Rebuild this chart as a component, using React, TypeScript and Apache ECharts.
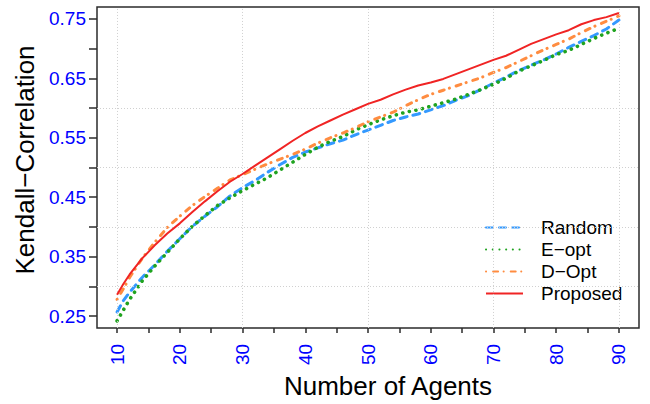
import React, { useEffect, useRef } from "react";
import * as echarts from "echarts";

const agents = [10, 11, 12, 14, 16, 18, 20, 22, 24, 26, 28, 30, 32, 34, 36, 38, 40, 42, 44, 46, 48, 50, 52, 54, 56, 58, 60, 62, 64, 66, 68, 70, 72, 74, 76, 78, 80, 82, 84, 86, 88, 90];

const randomVals = [0.257, 0.276, 0.290, 0.315, 0.336, 0.359, 0.380, 0.401, 0.418, 0.434, 0.452, 0.466, 0.478, 0.492, 0.505, 0.517, 0.526, 0.533, 0.540, 0.546, 0.555, 0.563, 0.571, 0.579, 0.585, 0.590, 0.597, 0.604, 0.613, 0.621, 0.631, 0.642, 0.652, 0.663, 0.672, 0.681, 0.691, 0.702, 0.712, 0.722, 0.733, 0.748];

const eOptVals = [0.242, 0.260, 0.278, 0.309, 0.334, 0.357, 0.380, 0.401, 0.419, 0.436, 0.449, 0.461, 0.472, 0.483, 0.496, 0.509, 0.522, 0.534, 0.544, 0.552, 0.563, 0.572, 0.580, 0.587, 0.593, 0.597, 0.603, 0.609, 0.615, 0.623, 0.631, 0.640, 0.650, 0.662, 0.671, 0.680, 0.690, 0.697, 0.707, 0.717, 0.726, 0.734];

const dOptVals = [0.278, 0.296, 0.315, 0.347, 0.374, 0.399, 0.418, 0.436, 0.451, 0.465, 0.479, 0.488, 0.497, 0.506, 0.514, 0.522, 0.531, 0.541, 0.550, 0.558, 0.567, 0.577, 0.585, 0.593, 0.604, 0.614, 0.623, 0.630, 0.637, 0.644, 0.651, 0.660, 0.668, 0.678, 0.688, 0.698, 0.707, 0.716, 0.727, 0.737, 0.746, 0.755];

const proposedVals = [0.286, 0.304, 0.320, 0.347, 0.369, 0.389, 0.406, 0.425, 0.443, 0.460, 0.476, 0.489, 0.503, 0.517, 0.531, 0.545, 0.558, 0.569, 0.579, 0.589, 0.598, 0.607, 0.614, 0.623, 0.631, 0.638, 0.643, 0.649, 0.657, 0.665, 0.673, 0.681, 0.688, 0.698, 0.708, 0.716, 0.724, 0.731, 0.741, 0.748, 0.753, 0.760];

const seriesNames = ["Random", "E\u2212opt", "D\u2212Opt", "Proposed"];

const xTickValues = [10, 15, 20, 25, 30, 35, 40, 45, 50, 55, 60, 65, 70, 75, 80, 85, 90];
const xLabelValues = [10, 20, 30, 40, 50, 60, 70, 80, 90];
const yTickValues = [0.25, 0.3, 0.35, 0.4, 0.45, 0.5, 0.55, 0.6, 0.65, 0.7, 0.75];
const yLabelValues = [0.25, 0.35, 0.45, 0.55, 0.65, 0.75];
const xGridValues = [10, 30, 50, 70, 90];
const yGridValues = [0.3, 0.4, 0.5, 0.6];

const FONT = "Liberation Sans";

function pairs(vals: number[]) {
  return agents.map((a, i) => [a, vals[i]]);
}

export default function App() {
  const ref = useRef<HTMLDivElement>(null);
  useEffect(() => {
    if (!ref.current) return;
    const chart = echarts.init(ref.current, undefined, { renderer: "svg" });
    const gridLineData = [
      ...xGridValues.map((v) => ({ xAxis: v })),
      ...yGridValues.map((v) => ({ yAxis: v })),
    ];
    chart.setOption({
      animation: false,
      backgroundColor: "#ffffff",
      textStyle: { fontFamily: FONT },
      grid: {
        left: 97,
        top: 7,
        right: 11,
        bottom: 72,
        show: true,
        borderColor: "#2b2b2b",
        borderWidth: 1.5,
        backgroundColor: "transparent",
      },
      legend: {
        data: seriesNames,
        orient: "vertical",
        left: 485,
        top: 218,
        padding: 0,
        itemWidth: 37,
        itemHeight: 14,
        itemGap: 3,
        itemStyle: { opacity: 0 },
        textStyle: { fontFamily: FONT, fontSize: 19, color: "#000", padding: [0, 0, 0, 13] },
      },
      xAxis: {
        type: "value",
        min: 6.8,
        max: 93.2,
        name: "Number of Agents",
        nameLocation: "middle",
        nameGap: 44,
        nameTextStyle: { fontFamily: FONT, fontSize: 26, color: "#000", padding: [0, 0, 0, 40] },
        axisLine: { show: false },
        axisTick: { show: true, customValues: xTickValues, length: 5, lineStyle: { color: "#2b2b2b", width: 1.5 } },
        axisLabel: {
          customValues: xLabelValues,
          rotate: 90,
          margin: 16,
          color: "#0000ff",
          fontFamily: FONT,
          fontSize: 19,
          formatter: (v: number) => String(v),
        },
        splitLine: { show: false },
      },
      yAxis: {
        type: "value",
        min: 0.23,
        max: 0.77,
        name: "Kendall\u2212Correlation",
        nameLocation: "middle",
        nameGap: 57,
        nameTextStyle: { fontFamily: FONT, fontSize: 26, color: "#000", padding: [0, 0, 0, 15] },
        axisLine: { show: false },
        axisTick: { show: true, customValues: yTickValues, length: 8, lineStyle: { color: "#2b2b2b", width: 1.5 } },
        axisLabel: {
          customValues: yLabelValues,
          margin: 11,
          color: "#0000ff",
          fontFamily: FONT,
          fontSize: 19,
          formatter: (v: number) => v.toFixed(2),
        },
        splitLine: { show: false },
      },
      series: [
        {
          name: "gridlines",
          type: "line",
          data: [],
          silent: true,
          z: 1,
          markLine: {
            silent: true,
            symbol: ["none", "none"],
            label: { show: false },
            animation: false,
            lineStyle: { color: "#d0d0d0", width: 1, type: [1, 2] },
            data: gridLineData,
          },
        },
        {
          name: seriesNames[0],
          type: "line",
          data: pairs(randomVals),
          showSymbol: false,
          symbol: "none",
          z: 2,
          color: "#3399ff",
          lineStyle: { color: "#3399ff", width: 3, type: [7, 6], cap: "round" },
        },
        {
          name: seriesNames[1],
          type: "line",
          data: pairs(eOptVals),
          showSymbol: false,
          symbol: "none",
          z: 3,
          color: "#1fa31f",
          lineStyle: { color: "#1fa31f", width: 3.6, type: [0.1, 6.6], cap: "round" },
        },
        {
          name: seriesNames[2],
          type: "line",
          data: pairs(dOptVals),
          showSymbol: false,
          symbol: "none",
          z: 4,
          color: "#ff8c40",
          lineStyle: { color: "#ff8c40", width: 3, type: [0.1, 7, 5, 5.5], cap: "round" },
        },
        {
          name: seriesNames[3],
          type: "line",
          data: pairs(proposedVals),
          showSymbol: false,
          symbol: "none",
          z: 5,
          color: "#f02424",
          lineStyle: { color: "#f02424", width: 2 },
        },
      ],
    });
    return () => chart.dispose();
  }, []);
  return (
    <div
      ref={ref}
      style={{ position: "fixed", left: 0, top: 0, width: 650, height: 404, background: "#fff" }}
    />
  );
}
